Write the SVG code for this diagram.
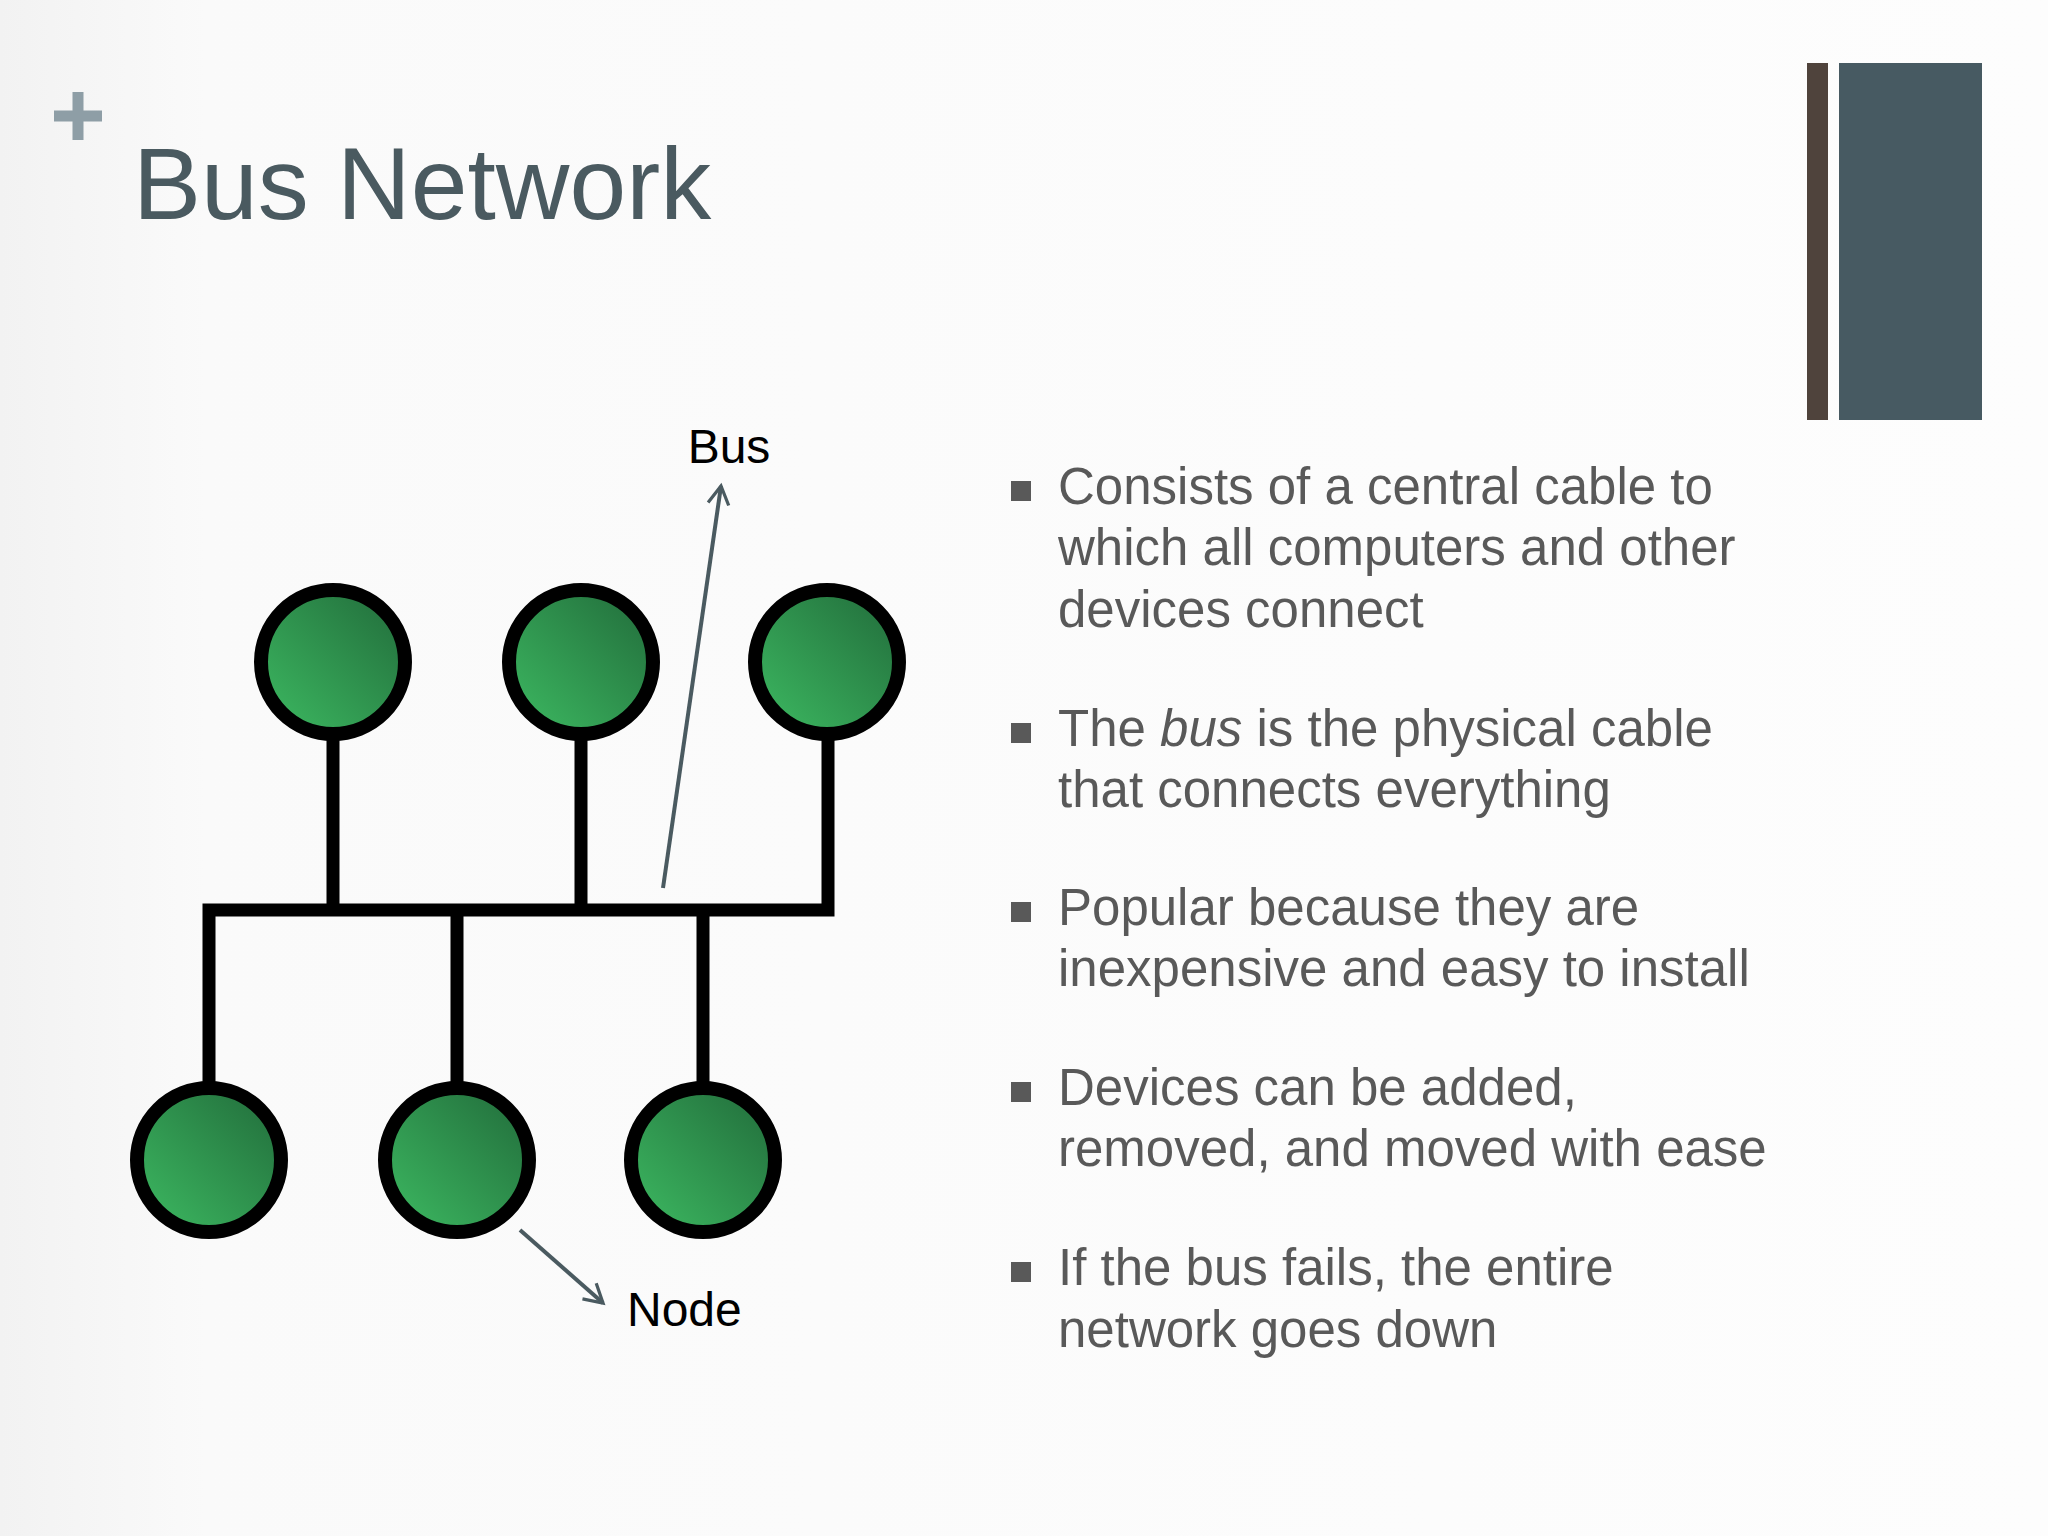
<svg xmlns="http://www.w3.org/2000/svg" width="2048" height="1536" viewBox="0 0 2048 1536">
<defs>
<linearGradient id="g" x1="0" y1="1" x2="1" y2="0">
<stop offset="0" stop-color="#3dbb62"/><stop offset="1" stop-color="#216a3a"/>
</linearGradient>
<linearGradient id="bg" x1="0" y1="0" x2="1" y2="0">
<stop offset="0" stop-color="#f2f2f2"/><stop offset="0.1" stop-color="#fafafa"/><stop offset="1" stop-color="#fdfdfd"/>
</linearGradient>
<marker id="ah" viewBox="0 0 20 20" refX="17" refY="10" markerWidth="26" markerHeight="26" markerUnits="userSpaceOnUse" orient="auto">
<path d="M3,2 L17,10 L3,18" fill="none" stroke="#4a5a60" stroke-width="2.5"/>
</marker>
<style>
.n{fill:url(#g);stroke:#000;stroke-width:14}
.w{stroke:#000;stroke-width:13;fill:none;stroke-linecap:square}
.t{font-family:"Liberation Sans",Arial,sans-serif;font-size:51px;fill:#595959}
.l{font-family:"Liberation Sans",Arial,sans-serif;font-size:48px;fill:#000}
.b{fill:#595959}
.a{stroke:#4a5a60;stroke-width:4;fill:none;marker-end:url(#ah)}
</style>
</defs>
<rect width="2048" height="1536" fill="url(#bg)"/>
<rect x="1807" y="63" width="21" height="357" fill="#4f433c"/>
<rect x="1839" y="63" width="143" height="357" fill="#475a62"/>
<path d="M78,92 V140 M54,116 H102" stroke="#8e9ea6" stroke-width="11"/>
<text x="133" y="219" font-family="Liberation Sans,Arial,sans-serif" font-size="102" fill="#4a5a60">Bus Network</text>
<g id="connectors">
<path class="w" d="M209,910 H828 V662 M333,662 V910 M581,662 V910 M209,910 V1160 M457,910 V1160 M703,910 V1160"/>
<line class="a" x1="663" y1="888" x2="721" y2="486"/>
<line class="a" x1="520" y1="1230" x2="603" y2="1303"/>
</g>
<g id="n1"><circle class="n" cx="333" cy="662" r="72"/></g>
<g id="n2"><circle class="n" cx="581" cy="662" r="72"/></g>
<g id="n3"><circle class="n" cx="827" cy="662" r="72"/></g>
<g id="n4"><circle class="n" cx="209" cy="1160" r="72"/></g>
<g id="n5"><circle class="n" cx="457" cy="1160" r="72"/></g>
<g id="n6"><circle class="n" cx="703" cy="1160" r="72"/></g>
<text class="l" x="729" y="463" text-anchor="middle">Bus</text>
<text class="l" x="627" y="1326">Node</text>
<g id="bullets">
<rect class="b" x="1011" y="481" width="20" height="20"/>
<rect class="b" x="1011" y="723" width="20" height="20"/>
<rect class="b" x="1011" y="902" width="20" height="20"/>
<rect class="b" x="1011" y="1082" width="20" height="20"/>
<rect class="b" x="1011" y="1262" width="20" height="20"/>
<text class="t" x="1058" y="504">Consists of a central cable to</text>
<text class="t" x="1058" y="565">which all computers and other</text>
<text class="t" x="1058" y="627">devices connect</text>
<text class="t" x="1058" y="746">The <tspan font-style="italic">bus</tspan> is the physical cable</text>
<text class="t" x="1058" y="807">that connects everything</text>
<text class="t" x="1058" y="925">Popular because they are</text>
<text class="t" x="1058" y="986">inexpensive and easy to install</text>
<text class="t" x="1058" y="1105">Devices can be added,</text>
<text class="t" x="1058" y="1166">removed, and moved with ease</text>
<text class="t" x="1058" y="1285">If the bus fails, the entire</text>
<text class="t" x="1058" y="1347">network goes down</text>
</g>
</svg>
